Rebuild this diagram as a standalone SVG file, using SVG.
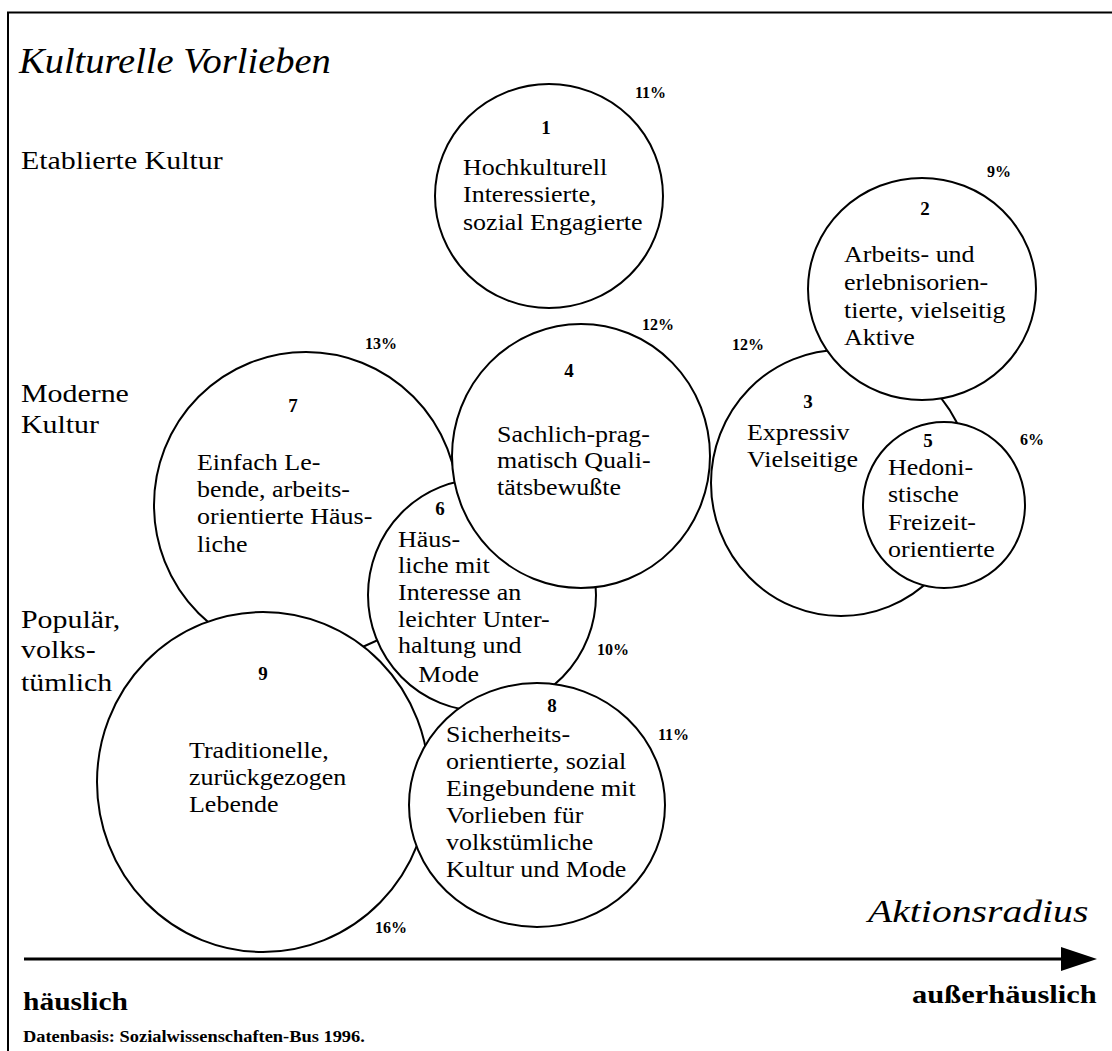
<svg xmlns="http://www.w3.org/2000/svg" width="1112" height="1051" viewBox="0 0 1112 1051">
<style>
text{font-family:"Liberation Serif","Times New Roman",serif;fill:#000}
.c{fill:#fff;stroke:#000;stroke-width:2}
.t{font-size:23px}
.n{font-size:19px;font-weight:bold;text-anchor:middle}
.p{font-size:16px;font-weight:bold}
.lab{font-size:26px}
.ln{stroke:#000;fill:none}
</style>
<rect width="1112" height="1051" fill="#fff"/>
<g id="frame">
<path class="ln" stroke-width="2" d="M8,1051 V12.5 H1112"/>
</g>
<g id="title" transform="translate(19 0) scale(1.1 1)">
<text y="73" style="font-size:35px;font-style:italic">Kulturelle Vorlieben</text>
</g>
<g id="row-labels">
<g transform="translate(21 0) scale(1.15 1)">
<text class="lab" y="169">Etablierte Kultur</text>
<text class="lab" y="402">Moderne</text>
<text class="lab" y="433">Kultur</text>
<text class="lab" y="628">Populär,</text>
<text class="lab" y="658">volks-</text>
<text class="lab" y="691">tümlich</text>
</g>
</g>

<g id="node7">
<ellipse class="c" cx="306" cy="505" rx="152" ry="153"/>
<text class="n" x="293" y="412">7</text>
<g transform="translate(197 0) scale(1.13 1)">
<text class="t" y="470">Einfach Le-</text>
<text class="t" y="497">bende, arbeits-</text>
<text class="t" y="524">orientierte Häus-</text>
<text class="t" y="552">liche</text>
</g>
<text class="p" x="365" y="349">13%</text>
</g>

<g id="node9">
<ellipse class="c" cx="263" cy="782" rx="166" ry="170"/>
<text class="n" x="263" y="680">9</text>
<g transform="translate(189 0) scale(1.13 1)">
<text class="t" y="758">Traditionelle,</text>
<text class="t" y="785">zurückgezogen</text>
<text class="t" y="812">Lebende</text>
</g>
<text class="p" x="375" y="933">16%</text>
</g>

<g id="node6">
<ellipse class="c" cx="482" cy="595" rx="114" ry="116"/>
<text class="n" x="440" y="515">6</text>
<g transform="translate(398 0) scale(1.13 1)">
<text class="t" y="547">Häus-</text>
<text class="t" y="573">liche mit</text>
<text class="t" y="600">Interesse an</text>
<text class="t" y="627">leichter Unter-</text>
<text class="t" y="653">haltung und</text>
<text class="t" x="18" y="682">Mode</text>
</g>
<text class="p" x="597" y="655">10%</text>
</g>

<g id="node4">
<ellipse class="c" cx="581" cy="456" rx="129" ry="132"/>
<text class="n" x="569" y="377">4</text>
<g transform="translate(497 0) scale(1.13 1)">
<text class="t" y="442">Sachlich-prag-</text>
<text class="t" y="468">matisch Quali-</text>
<text class="t" y="495">tätsbewußte</text>
</g>
<text class="p" x="642" y="330">12%</text>
</g>

<g id="node8">
<ellipse class="c" cx="537" cy="805" rx="128" ry="122"/>
<text class="n" x="552" y="712">8</text>
<g transform="translate(446 0) scale(1.13 1)">
<text class="t" y="742">Sicherheits-</text>
<text class="t" y="769">orientierte, sozial</text>
<text class="t" y="796">Eingebundene mit</text>
<text class="t" y="823">Vorlieben für</text>
<text class="t" y="850">volkstümliche</text>
<text class="t" y="877">Kultur und Mode</text>
</g>
<text class="p" x="658" y="740">11%</text>
</g>

<g id="node1">
<ellipse class="c" cx="549" cy="196" rx="114" ry="112"/>
<text class="n" x="546" y="134">1</text>
<g transform="translate(463 0) scale(1.13 1)">
<text class="t" y="175">Hochkulturell</text>
<text class="t" y="202">Interessierte,</text>
<text class="t" y="230">sozial Engagierte</text>
</g>
<text class="p" x="635" y="98">11%</text>
</g>

<g id="node3">
<ellipse class="c" cx="841" cy="483" rx="130" ry="133"/>
<text class="n" x="808" y="408">3</text>
<g transform="translate(747 0) scale(1.13 1)">
<text class="t" y="440">Expressiv</text>
<text class="t" y="467">Vielseitige</text>
</g>
<text class="p" x="732" y="350">12%</text>
</g>

<g id="node2">
<ellipse class="c" cx="922" cy="289" rx="114" ry="111"/>
<text class="n" x="925" y="215">2</text>
<g transform="translate(844 0) scale(1.13 1)">
<text class="t" y="262">Arbeits- und</text>
<text class="t" y="290">erlebnisorien-</text>
<text class="t" y="318">tierte, vielseitig</text>
<text class="t" y="345">Aktive</text>
</g>
<text class="p" x="987" y="177">9%</text>
</g>

<g id="node5">
<ellipse class="c" cx="944" cy="505" rx="81" ry="83"/>
<text class="n" x="928" y="447">5</text>
<g transform="translate(888 0) scale(1.13 1)">
<text class="t" y="475">Hedoni-</text>
<text class="t" y="502">stische</text>
<text class="t" y="530">Freizeit-</text>
<text class="t" y="557">orientierte</text>
</g>
<text class="p" x="1020" y="445">6%</text>
</g>

<g id="connectors">
<line class="ln" x1="24" y1="959" x2="1064" y2="959" stroke-width="3"/>
<polygon points="1061,947 1097,959 1061,971" fill="#000"/>
</g>

<g id="axis-labels">
<g transform="translate(868 0) scale(1.28 1)">
<text y="922" style="font-size:31px;font-style:italic">Aktionsradius</text>
</g>
<g transform="translate(23 0) scale(1.18 1)">
<text y="1010" style="font-size:25px;font-weight:bold">häuslich</text>
</g>
<g transform="translate(912 0) scale(1.22 1)">
<text y="1003" style="font-size:25px;font-weight:bold">außerhäuslich</text>
</g>
<g transform="translate(23 0) scale(1.15 1)">
<text y="1042" style="font-size:16px;font-weight:bold">Datenbasis: Sozialwissenschaften-Bus 1996.</text>
</g>
</g>
</svg>
